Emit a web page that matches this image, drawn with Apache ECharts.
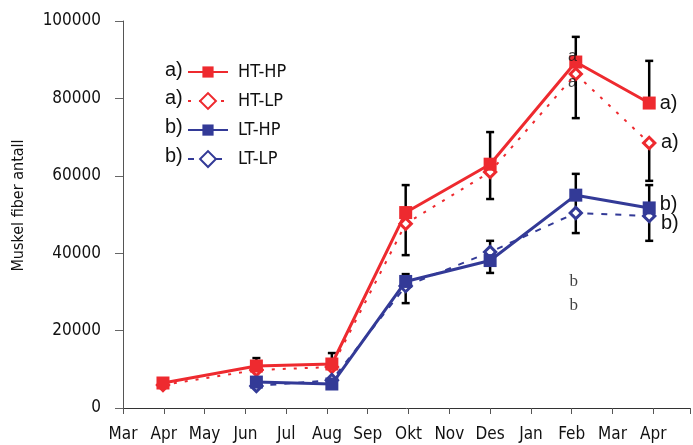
<!DOCTYPE html>
<html><head><meta charset="utf-8">
<script src="https://cdn.jsdelivr.net/npm/echarts@6/dist/echarts.min.js"></script>
<style>html,body{margin:0;padding:0;background:#fff}#c{width:693px;height:445px}</style>
</head><body><div id="c"></div>
<script>
// Month tick labels (x axis is months since March)
var monthLabels = ['Mar','Apr','May','Jun','Jul','Aug','Sep','Okt','Nov','Des','Jan','Feb','Mar','Apr'];
var seriesNames = ['HT-HP','HT-LP','LT-HP','LT-LP'];
var groupLabels = ['a)','a)','b)','b)'];
// sampling times (months after 1 March)
var htX = [0.98, 3.27, 5.12, 6.93, 9.0, 11.1, 12.9];
var ltX = [3.27, 5.12, 6.93, 9.0, 11.1, 12.9];
var htHP = [6460, 10850, 11370, 50500, 63000, 89400, 78800];
var htLP = [5940, 9800, 10600, 47600, 61000, 86300, 68500];
var ltHP = [6700, 6200, 32700, 38100, 55000, 51700];
var ltLP = [5700, 7200, 31500, 40300, 50400, 49600];
// error bars: [x, low, high]
var errorBars = [
  [3.27, 10850, 12900], [5.12, 11370, 14200],
  [6.93, 39500, 57600], [6.93, 27100, 34600],
  [9.0, 54000, 71300], [9.0, 34900, 43200],
  [11.1, 74900, 95900], [11.1, 45200, 60500],
  [12.9, 78800, 89700], [12.9, 58700, 68500], [12.9, 43200, 57600]
];
// significance letters: [x, y, text]
var sigA = [[11.02, 90700, 'a'], [11.02, 84200, 'a']];
var sigB = [[11.05, 32600, 'b'], [11.05, 26600, 'b']];
var yTicks = {min: 0, max: 100000, interval: 20000};

var RED = '#EE2A2F', BLUE = '#333A97';
var NARROW = '"Liberation Sans Narrow","DejaVu Sans Condensed",sans-serif';

function mkData(xs, ys, lab, off) {
  return xs.map(function (x, i) {
    var d = {value: [x, ys[i]]};
    if (i === xs.length - 1) {
      d.label = {show: true, formatter: lab, position: 'right', distance: 4, offset: off,
        fontFamily: '"Liberation Sans",Arial,sans-serif', fontSize: 20, color: '#111'};
    }
    return d;
  });
}
function sigSeries(arr, font, size) {
  return {
    type: 'scatter', z: 6, silent: true, symbolSize: 0,
    data: arr.map(function (s) { return {value: [s[0], s[1]], name: s[2]}; }),
    label: {show: true, position: 'inside', formatter: '{b}',
      fontFamily: font, fontSize: size, color: '#111'}
  };
}

var chart = echarts.init(document.getElementById('c'), null, {renderer: 'canvas'});
var option = {
  animation: false,
  grid: {left: 123, right: 0, top: 21, bottom: 37},
  xAxis: {
    type: 'value', min: 0, max: 13.9, interval: 1,
    splitLine: {show: false},
    axisLine: {lineStyle: {color: '#333', width: 1}},
    axisTick: {show: true, length: 6, lineStyle: {color: '#555'}},
    axisLabel: {margin: 18, fontFamily: NARROW, fontSize: 17, color: '#111',
      formatter: function (v) { return Number.isInteger(v) ? (monthLabels[v] || '') : ''; }}
  },
  yAxis: {
    type: 'value', min: yTicks.min, max: yTicks.max, interval: yTicks.interval,
    name: 'Muskel fiber antall', nameLocation: 'middle', nameRotate: 90, nameGap: 96,
    nameTextStyle: {fontFamily: NARROW, fontSize: 16, color: '#111', padding: [0, 0, 0, 18]},
    splitLine: {show: false},
    axisLine: {show: true, lineStyle: {color: '#555', width: 1}},
    axisTick: {show: true, length: 8, lineStyle: {color: '#666'}},
    axisLabel: {margin: 22, fontFamily: NARROW, fontSize: 17, color: '#111',
      formatter: function (v) { return String(v); }}
  },
  legend: {
    data: seriesNames, orient: 'vertical', left: 187, top: 63, padding: 0,
    itemWidth: 40, itemHeight: 14, itemGap: 10.7,
    textStyle: {fontFamily: NARROW, fontSize: 18, color: '#111', padding: [0, 0, 0, 5]}
  },
  graphic: groupLabels.map(function (t, i) {
    return {type: 'text', left: 165, top: 60 + i * 28.9,
      style: {text: t, font: '20px "Liberation Sans", Arial, sans-serif', fill: '#111'}};
  }),
  series: [
    {
      type: 'custom', name: 'err', z: 1, silent: true,
      encode: {x: 0, y: [1, 2]},
      data: errorBars,
      renderItem: function (params, api) {
        var x = api.value(0), lo = api.value(1), hi = api.value(2);
        var a = api.coord([x, lo]), b = api.coord([x, hi]);
        var w = 4, st = {stroke: '#000', lineWidth: 2.5};
        return {type: 'group', children: [
          {type: 'line', shape: {x1: a[0], y1: a[1], x2: b[0], y2: b[1]}, style: st},
          {type: 'line', shape: {x1: a[0] - w, y1: a[1], x2: a[0] + w, y2: a[1]}, style: st},
          {type: 'line', shape: {x1: b[0] - w, y1: b[1], x2: b[0] + w, y2: b[1]}, style: st}
        ]};
      }
    },
    {
      name: 'HT-HP', type: 'line', z: 5, data: mkData(htX, htHP, groupLabels[0], [0, 0]),
      symbol: 'rect', symbolSize: 13,
      lineStyle: {color: RED, width: 3}, itemStyle: {color: RED}
    },
    {
      name: 'HT-LP', type: 'line', z: 4, data: mkData(htX, htLP, groupLabels[1], [0, 0]),
      symbol: 'rect', symbolSize: 8, symbolRotate: 45,
      lineStyle: {color: RED, width: 2, type: [3, 8]},
      itemStyle: {color: '#fff', borderColor: RED, borderWidth: 3}
    },
    {
      name: 'LT-HP', type: 'line', z: 5, data: mkData(ltX, ltHP, groupLabels[2], [0, -3]),
      symbol: 'rect', symbolSize: 13,
      lineStyle: {color: BLUE, width: 3}, itemStyle: {color: BLUE}
    },
    {
      name: 'LT-LP', type: 'line', z: 4, data: mkData(ltX, ltLP, groupLabels[3], [0, 7]),
      symbol: 'rect', symbolSize: 8, symbolRotate: 45,
      lineStyle: {color: BLUE, width: 2, type: [6, 8]},
      itemStyle: {color: '#fff', borderColor: BLUE, borderWidth: 3}
    },
    sigSeries(sigA, '"Liberation Sans",Arial,sans-serif', 16),
    sigSeries(sigB, '"Liberation Serif","DejaVu Serif",serif', 17)
  ]
};
chart.setOption(option);
</script></body></html>
